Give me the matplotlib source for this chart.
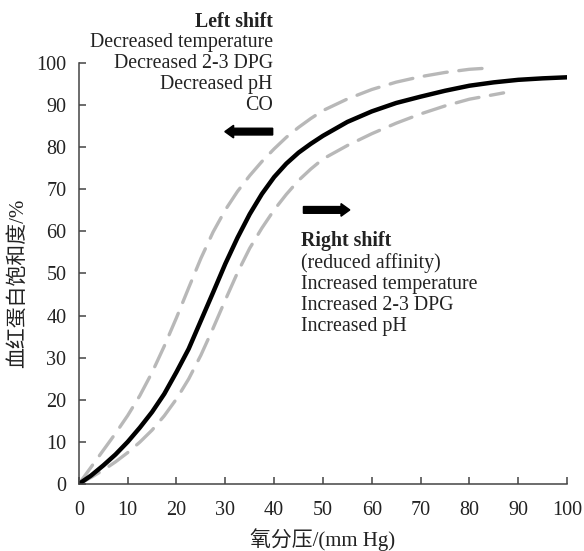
import numpy as np
import matplotlib
matplotlib.use("Agg")
import matplotlib.pyplot as plt

plt.rcParams['font.family'] = ['Liberation Serif', 'Noto Sans CJK SC']

# oxygen partial pressure (mm Hg) -> haemoglobin saturation (%)
po2_normal = [0, 2.5, 5, 7.5, 10, 12.5, 15, 17.5, 20, 22.5, 25, 27.5, 30, 32.5, 35,
              37.5, 40, 42.5, 45, 47.5, 50, 55, 60, 65, 70, 75, 80, 85, 90, 95, 100]
sat_normal = [0, 2.0, 4.4, 7.0, 10.0, 13.4, 17.1, 21.4, 26.6, 32.1, 38.8, 45.5, 52.3, 58.5, 64.1,
              68.9, 72.9, 76.1, 78.7, 80.8, 82.7, 86.0, 88.5, 90.5, 92.0, 93.4, 94.6, 95.4, 96.0, 96.35, 96.6]

# left shift (higher affinity)
po2_left = [0, 2.5, 5, 7.5, 10, 12.5, 15, 17.5, 20, 22.5, 25, 27.5, 30, 32.5, 35,
            37.5, 40, 42.5, 45, 47.5, 50, 55, 60, 65, 70, 75, 80, 84]
sat_left = [0, 4.0, 8.0, 12.0, 16.25, 21.0, 26.5, 32.75, 39.5, 46.6, 53.6, 59.85, 65.1, 69.5, 73.25,
            76.6, 79.6, 82.35, 84.7, 86.8, 88.7, 91.45, 93.7, 95.45, 96.75, 97.75, 98.5, 98.8]

# right shift (reduced affinity)
po2_right = [0, 2.5, 5, 7.5, 10, 12.5, 15, 17.5, 20, 22.5, 25, 27.5, 30, 32.5, 35,
             37.5, 40, 42.5, 45, 47.5, 50, 55, 60, 65, 70, 75, 80, 87]
sat_right = [0, 1.55, 3.3, 5.25, 7.45, 9.95, 12.8, 16.2, 20.2, 24.95, 30.6, 37.0, 43.7, 50.2, 56.0,
             60.8, 65.1, 68.8, 72.1, 74.8, 77.2, 80.4, 83.2, 85.7, 87.9, 89.8, 91.4, 92.9]

left_lines = ['Decreased temperature', 'Decreased 2-3 DPG', 'Decreased pH', 'CO']
right_lines = ['(reduced affinity)', 'Increased temperature', 'Increased 2-3 DPG', 'Increased pH']

fig = plt.figure(figsize=(5.84, 5.51), dpi=100)
ax = fig.add_axes([0.135, 0.1216, 0.836, 0.7641])

gray = '#b8b8b8'
ax.plot(po2_left, sat_left, color=gray, lw=2.4, dashes=(7, 3.5), dash_capstyle='round',
        dash_joinstyle='round')
ax.plot(po2_right, sat_right, color=gray, lw=2.4, dashes=(7, 3.5), dash_capstyle='round',
        dash_joinstyle='round')
ax.plot(po2_normal, sat_normal, color='black', lw=3.2, solid_capstyle='round',
        solid_joinstyle='round')

ax.set_xlim(0, 100)
ax.set_ylim(0, 100)
ax.set_xticks(np.arange(0, 101, 10))
ax.set_yticks(np.arange(0, 101, 10))
for s in ['top', 'right']:
    ax.spines[s].set_visible(False)
for s in ['left', 'bottom']:
    ax.spines[s].set_color('#444444')
    ax.spines[s].set_linewidth(1.1)
ax.tick_params(direction='in', length=5, width=1.1, color='#444444',
               labelsize=14.5, labelcolor='#222222')
ax.tick_params(axis='x', pad=12)
ax.tick_params(axis='y', pad=9)

tc = '#222222'
ax.set_xlabel('氧分压/(mm Hg)', fontsize=15, color=tc, labelpad=6)
ax.set_ylabel('血红蛋白饱和度/%', fontsize=15, color=tc)
ax.yaxis.set_label_coords(-0.1045, 0.477)

ax.text(39.7, 109.8, 'Left shift', ha='right', va='center', fontsize=14.3,
        fontweight='bold', color=tc, clip_on=False)
for i, t in enumerate(left_lines):
    ax.text(39.7, 104.8 - 5.0 * i, t, ha='right', va='center', fontsize=14.3,
            color=tc, clip_on=False)

ax.text(45.6, 57.6, 'Right shift', ha='left', va='center', fontsize=14.3,
        fontweight='bold', color=tc)
for i, t in enumerate(right_lines):
    ax.text(45.6, 52.5 - 5.05 * i, t, ha='left', va='center', fontsize=14.3, color=tc)

ax.arrow(39.7, 83.7, -9.8, 0, width=1.6, head_width=3.0, head_length=1.8,
         length_includes_head=True, color='black')
ax.arrow(46.0, 65.1, 9.5, 0, width=1.6, head_width=3.0, head_length=1.8,
         length_includes_head=True, color='black')

fig.savefig('out.png', dpi=100)
